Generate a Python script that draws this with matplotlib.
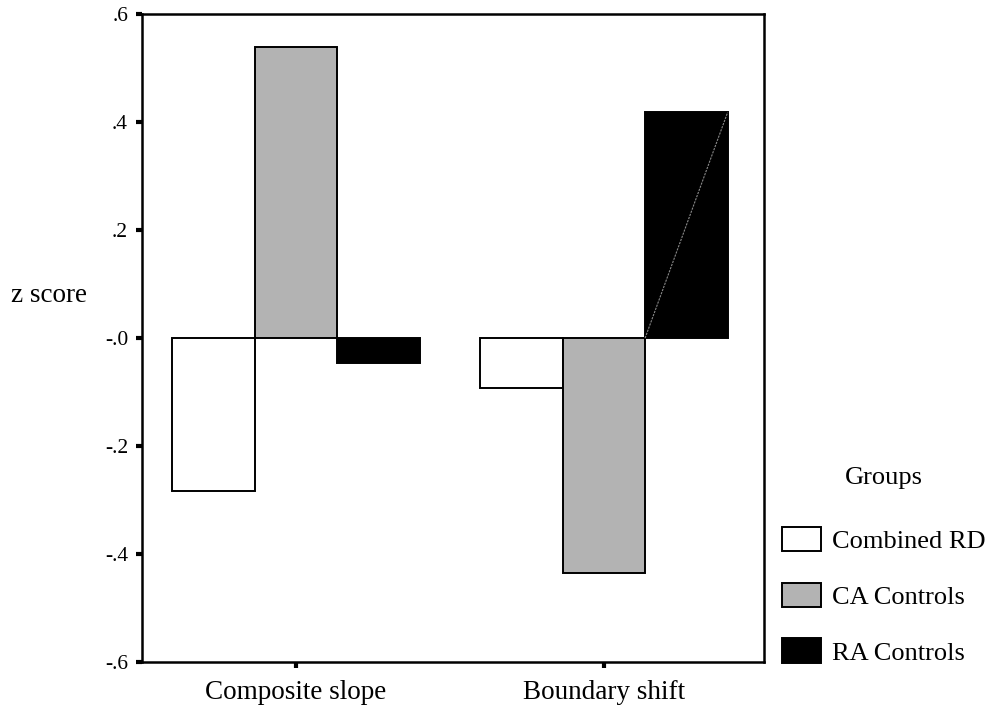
from matplotlib import pyplot as plt
import numpy as np

# data
Measures = ['Composite slope', 'Boundary shift']
Groups = ['Combined RD', 'CA Controls', 'RA Controls']
Combined_RD = [-0.284, -0.093]
CA_Controls = [0.539, -0.435]
RA_Controls = [-0.046, 0.418]
Colors = ['white', '#b3b3b3', 'black']
y_ticks = [-0.6, -0.4, -0.2, 0.0, 0.2, 0.4, 0.6]
y_tick_labels = ['-.6', '-.4', '-.2', '-.0', '.2', '.4', '.6']

plt.rcParams['font.family'] = ['Liberation Serif', 'DejaVu Serif']

fig = plt.figure(figsize=(9.95, 7.05), dpi=100)
ax = fig.add_axes([0.1427, 0.061, 0.6251, 0.919])

x = np.arange(len(Measures))
w = 0.268
bars = []
for i, vals in enumerate([Combined_RD, CA_Controls, RA_Controls]):
    b = ax.bar(x + (i - 1) * w, vals, w, color=Colors[i], edgecolor='black',
               linewidth=1.4, label=Groups[i], zorder=2)
    bars.append(b)

# faint diagonal artefact inside the tall black bar
p = bars[2][1]
ax.plot([p.get_x(), p.get_x() + p.get_width()], [0, p.get_height()],
        color='#888888', lw=0.8, ls=(0, (2, 1)), zorder=3)

ax.set_xlim(-0.5, 1.52)
ax.set_ylim(-0.6, 0.6)
ax.set_xticks(x)
ax.set_xticklabels(Measures, fontsize=19.5)
ax.set_yticks(y_ticks)
ax.set_yticklabels(y_tick_labels, fontsize=15.5)
ax.tick_params(axis='both', direction='out', length=4, width=3, color='black')
ax.tick_params(axis='x', pad=9)
ax.tick_params(axis='y', pad=6)
for s in ax.spines.values():
    s.set_linewidth(1.8)

ax.set_ylabel('z score', rotation=0, fontsize=19.5, ha='center', va='center')
ax.yaxis.set_label_coords(-0.15, 0.566)

leg = ax.legend(loc='upper left', bbox_to_anchor=(0.775, 0.352),
                bbox_transform=fig.transFigure, frameon=False, fontsize=19,
                title='Groups', title_fontsize=19, handlelength=1.5,
                handleheight=1.05, handletextpad=0.4, labelspacing=1.12,
                borderaxespad=0)
leg._legend_box.sep = 27

plt.savefig('out.png', dpi=100)
